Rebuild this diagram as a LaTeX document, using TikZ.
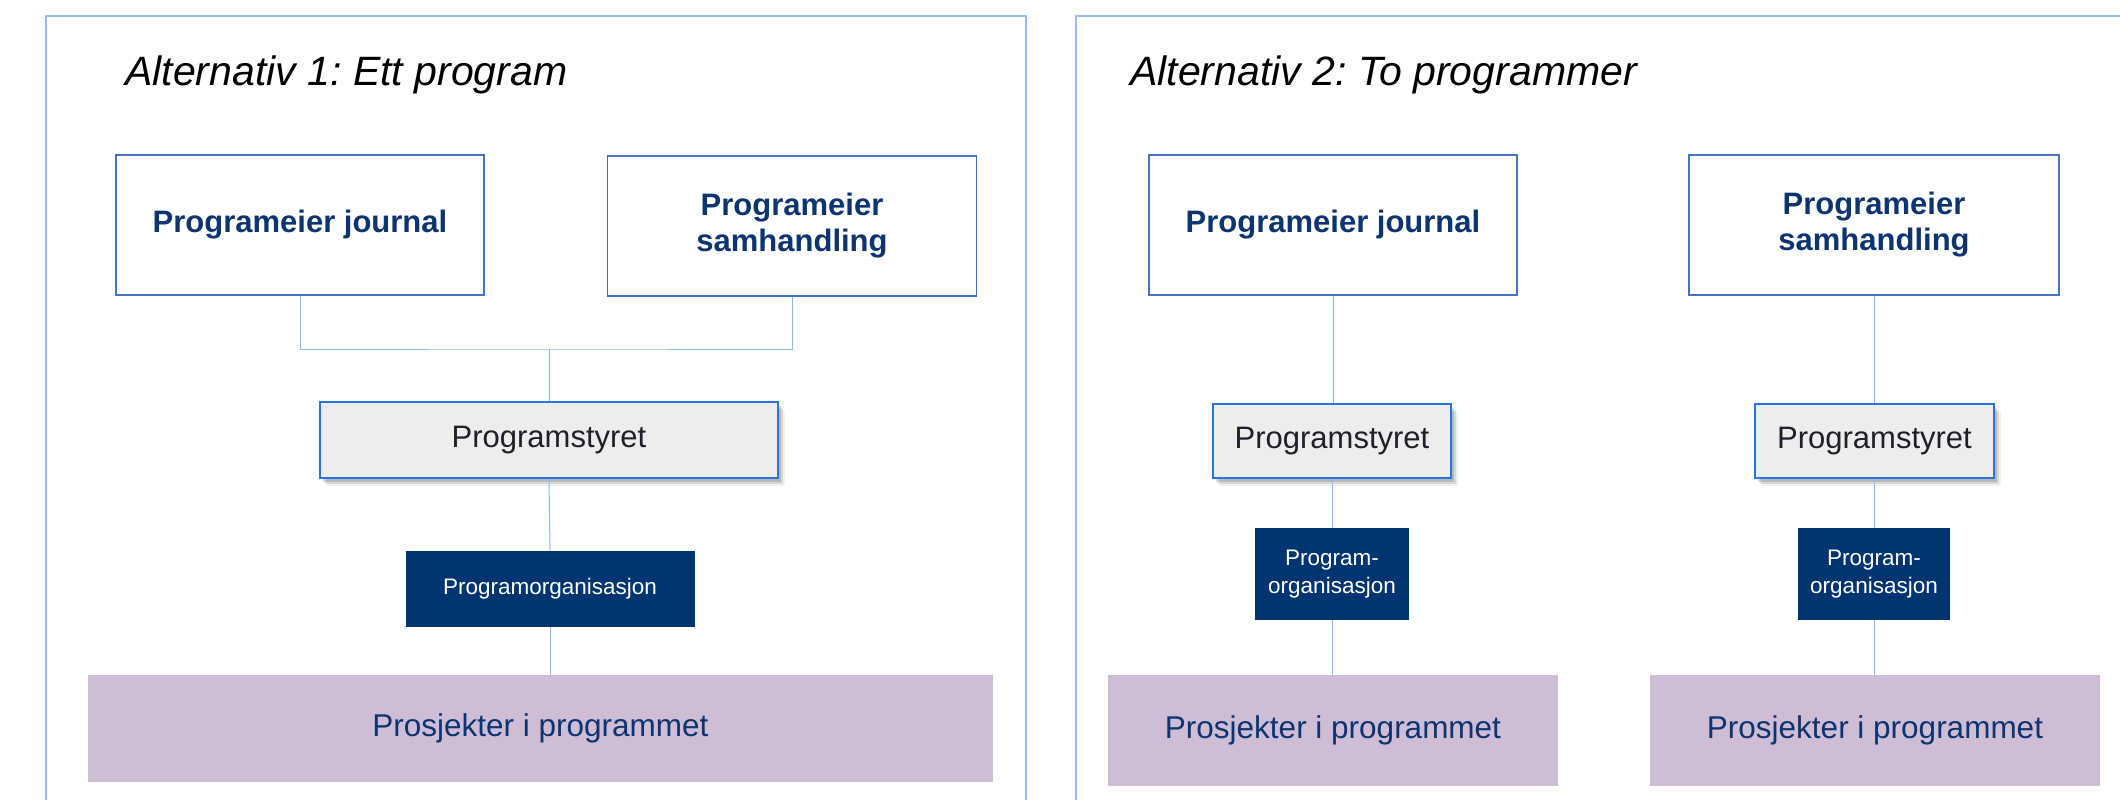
\documentclass[tikz,border=0pt]{standalone}
\usepackage{fontspec}
\setmainfont{Liberation Sans}
\usetikzlibrary{shadows}
\frenchspacing
\definecolor{framec}{RGB}{150,190,245}
\definecolor{linec}{RGB}{140,185,240}
\definecolor{boxb}{RGB}{70,115,200}
\definecolor{stb}{RGB}{40,115,230}
\definecolor{stf}{RGB}{237,237,237}
\definecolor{navy}{RGB}{0,53,114}
\definecolor{tnavy}{RGB}{12,52,112}
\definecolor{lav}{RGB}{207,188,213}
\definecolor{darkt}{RGB}{35,30,40}
\begin{document}
\begin{tikzpicture}[x=1pt,y=-1pt,
  ownerbox/.style={draw=boxb, line width=1.3pt, fill=white, inner sep=0pt, align=center, text=tnavy, font=\fontsize{31}{36}\selectfont\bfseries},
  boardbox/.style={draw=stb, line width=2.2pt, fill=stf, inner sep=0pt, text=darkt, font=\fontsize{31}{36}\selectfont,
    drop shadow={shadow xshift=7pt, shadow yshift=-8pt, fill=black, opacity=0.06},
    drop shadow={shadow xshift=5pt, shadow yshift=-6pt, fill=black, opacity=0.10},
    drop shadow={shadow xshift=3pt, shadow yshift=-4pt, fill=black, opacity=0.14}},
  orgbox/.style={fill=navy, inner sep=0pt, align=center, text=white, font=\fontsize{22.5}{28}\selectfont},
  projbox/.style={fill=lav, inner sep=0pt, text=tnavy, font=\fontsize{31.5}{36}\selectfont},
  conn/.style={draw=linec, line width=1pt},
  frame/.style={draw=framec, line width=1.5pt},
  title/.style={anchor=base west, inner sep=0pt, font=\fontsize{41}{48}\selectfont\itshape}
]
\useasboundingbox (0,0) rectangle (2120,800);
\fill[white] (0,0) rectangle (2120,800);
\draw[frame] (46,800) -- (46,16) -- (1026,16) -- (1026,800);
\draw[frame] (1076,800) -- (1076,16) -- (2120,16);

\node[title] (t1) at (125,85) {Alternativ 1: Ett program};
\node[title] (t2) at (1130,85) {Alternativ 2: To programmer};

% Alternative 1
\node[ownerbox, minimum width=368pt, minimum height=140pt] (pj1) at (300,225) {Programeier journal};
\node[ownerbox, minimum width=369pt, minimum height=140pt] (ps1) at (792,226) {Programeier\\samhandling};
\coordinate (j1) at (549,349);
\node[boardbox, minimum width=458pt, minimum height=76pt] (st1) at (549,440) {Programstyret};
\node[orgbox, minimum width=289pt, minimum height=76pt] (po1) at (550,589) {Programorganisasjon};
\node[projbox, minimum width=905pt, minimum height=107pt] (pr1) at (540.5,728.5) {Prosjekter i programmet};

\draw[conn] (pj1.south) |- (j1) -| (ps1.south);
\draw[conn] (j1) -- (st1.north);
\draw[conn] (st1.south) -- (po1.north);
\draw[conn] (po1.south) -- (po1.south |- pr1.north);

% Alternative 2
\node[ownerbox, minimum width=368pt, minimum height=140pt] (pj2) at (1333,225) {Programeier journal};
\node[ownerbox, minimum width=370pt, minimum height=140pt] (ps2) at (1874,225) {Programeier\\samhandling};
\node[boardbox, minimum width=238pt, minimum height=74pt] (st2) at (1332,441) {Programstyret};
\node[boardbox, minimum width=239pt, minimum height=74pt] (st3) at (1874.5,441) {Programstyret};
\node[orgbox, minimum width=154pt, minimum height=92pt] (po2) at (1332,574) {Program-\\organisasjon};
\node[orgbox, minimum width=152pt, minimum height=92pt] (po3) at (1874,574) {Program-\\organisasjon};
\node[projbox, minimum width=450pt, minimum height=111pt] (pr2) at (1333,730.5) {Prosjekter i programmet};
\node[projbox, minimum width=450pt, minimum height=111pt] (pr3) at (1875,730.5) {Prosjekter i programmet};

\draw[conn] (pj2.south) -- (pj2.south |- st2.north);
\draw[conn] (st2.south) -- (st2.south |- po2.north);
\draw[conn] (po2.south) -- (po2.south |- pr2.north);
\draw[conn] (ps2.south) -- (ps2.south |- st3.north);
\draw[conn] (st3.south) -- (st3.south |- po3.north);
\draw[conn] (po3.south) -- (po3.south |- pr3.north);
\end{tikzpicture}
\end{document}
